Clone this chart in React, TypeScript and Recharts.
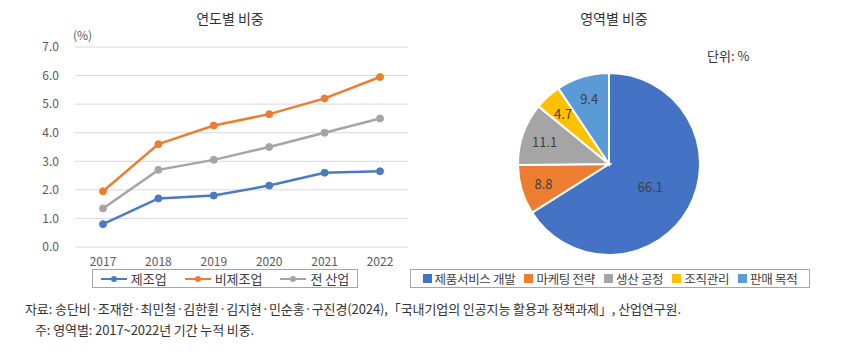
import { LineChart, Line, XAxis, YAxis, CartesianGrid, PieChart, Pie, Cell } from 'recharts'

const YEARS = ['2017', '2018', '2019', '2020', '2021', '2022']
const MANUFACTURING = [0.8, 1.7, 1.8, 2.15, 2.6, 2.65]
const NON_MANUFACTURING = [1.95, 3.6, 4.25, 4.65, 5.2, 5.95]
const ALL_INDUSTRY = [1.35, 2.7, 3.05, 3.5, 4.0, 4.5]
const Y_TICKS = [0, 1, 2, 3, 4, 5, 6, 7]

const SERIES = [
  { key: 'mfg', name: '제조업', color: '#4A7BC0' },
  { key: 'nonMfg', name: '비제조업', color: '#ED7D31' },
  { key: 'all', name: '전 산업', color: '#A5A5A5' },
]

const AREA_NAMES = ['제품서비스 개발', '마케팅 전략', '생산 공정', '조직관리', '판매 목적']
const AREA_SHARES = [66.1, 8.8, 11.1, 4.7, 9.4]
const AREA_COLORS = ['#4472C4', '#ED7D31', '#A5A5A5', '#FFC000', '#5B9BD5']

const FONT = '"Noto Sans CJK KR", "Noto Sans", sans-serif'
const TEXT = '#404040'

const lineData = YEARS.map((year, i) => ({
  year,
  mfg: MANUFACTURING[i],
  nonMfg: NON_MANUFACTURING[i],
  all: ALL_INDUSTRY[i],
}))

const pieData = AREA_NAMES.map((name, i) => ({ name, value: AREA_SHARES[i] }))

const RADIAN = Math.PI / 180

function renderPieLabel(props: any) {
  const { cx, cy, midAngle, outerRadius, value } = props
  const r = outerRadius * (value > 50 ? 0.52 : 0.75)
  const x = cx + r * Math.cos(-midAngle * RADIAN)
  const y = cy + r * Math.sin(-midAngle * RADIAN)
  return (
    <text x={x} y={y} fill={TEXT} fontSize={13} fontFamily={FONT} textAnchor="middle" dominantBaseline="central">
      {value.toFixed(1)}
    </text>
  )
}

export default function App() {
  return (
    <div style={{ position: 'absolute', left: 0, top: 0, width: 849, height: 353, background: '#fff', fontFamily: FONT, color: TEXT }}>
      {/* left: yearly share */}
      <div style={{ position: 'absolute', left: 0, top: 8, width: 420, textAlign: 'center', paddingLeft: 40, boxSizing: 'border-box', fontSize: 14, color: '#333' }}>
        연도별 비중
      </div>
      <div style={{ position: 'absolute', left: 73, top: 26, fontSize: 12, color: '#595959' }}>(%)</div>
      <div style={{ position: 'absolute', left: 0, top: 0 }}>
        <LineChart width={420} height={290} data={lineData} margin={{ top: 47, right: 12, left: 0, bottom: 0 }}>
          <CartesianGrid vertical={false} stroke="#D9D9D9" />
          <XAxis
            dataKey="year"
            axisLine={false}
            tickLine={false}
            height={43}
            tickMargin={4}
            padding={{ left: 28, right: 28 }}
            tick={{ fill: '#595959', fontSize: 12, fontFamily: FONT }}
          />
          <YAxis
            domain={[0, 7]}
            ticks={Y_TICKS}
            width={75}
            axisLine={false}
            tickLine={false}
            tickMargin={10}
            tick={{ fill: '#595959', fontSize: 12, fontFamily: FONT }}
            tickFormatter={(v: number) => v.toFixed(1)}
          />
          {SERIES.map((s) => (
            <Line
              key={s.key}
              dataKey={s.key}
              name={s.name}
              stroke={s.color}
              strokeWidth={2.5}
              dot={{ r: 3.5, fill: s.color, stroke: s.color, strokeWidth: 1 }}
              isAnimationActive={false}
            />
          ))}
        </LineChart>
      </div>
      <div
        style={{
          position: 'absolute', left: 92, top: 269, width: 266, height: 19, boxSizing: 'border-box',
          border: '1px solid #A6A6A6', display: 'flex', alignItems: 'center', justifyContent: 'center', gap: 18, fontSize: 13,
          whiteSpace: 'nowrap',
        }}
      >
        {SERIES.map((s) => (
          <div key={s.key} style={{ display: 'flex', alignItems: 'center', gap: 4 }}>
            <svg width={26} height={10}>
              <line x1={0} y1={5} x2={26} y2={5} stroke={s.color} strokeWidth={2} />
              <circle cx={13} cy={5} r={3} fill={s.color} />
            </svg>
            <span>{s.name}</span>
          </div>
        ))}
      </div>

      {/* right: share by area */}
      <div style={{ position: 'absolute', left: 420, top: 8, width: 388, textAlign: 'center', fontSize: 14, color: '#333' }}>
        영역별 비중
      </div>
      <div style={{ position: 'absolute', left: 707, top: 46, fontSize: 13, color: '#333' }}>단위: %</div>
      <div style={{ position: 'absolute', left: 420, top: 0 }}>
        <PieChart width={429} height={290} margin={{ top: 0, right: 0, bottom: 0, left: 0 }}>
          <Pie
            data={pieData}
            dataKey="value"
            cx={189}
            cy={164}
            outerRadius={91}
            startAngle={90}
            endAngle={-270}
            stroke="#fff"
            strokeWidth={2}
            labelLine={false}
            label={renderPieLabel}
            isAnimationActive={false}
          >
            {pieData.map((d, i) => (
              <Cell key={d.name} fill={AREA_COLORS[i]} />
            ))}
          </Pie>
        </PieChart>
      </div>
      <div
        style={{
          position: 'absolute', left: 410, top: 269, width: 400, height: 19, boxSizing: 'border-box',
          border: '1px solid #A6A6A6', display: 'flex', alignItems: 'center', justifyContent: 'center', gap: 9, fontSize: 12.5,
          whiteSpace: 'nowrap', letterSpacing: -0.3,
        }}
      >
        {AREA_NAMES.map((name, i) => (
          <div key={name} style={{ display: 'flex', alignItems: 'center', gap: 3 }}>
            <span style={{ display: 'inline-block', width: 9, height: 9, background: AREA_COLORS[i] }} />
            <span>{name}</span>
          </div>
        ))}
      </div>

      {/* footnotes */}
      <div style={{ position: 'absolute', left: 25, top: 299, fontSize: 13, color: '#333', letterSpacing: -0.1, whiteSpace: 'nowrap' }}>
        자료: 송단비·조재한·최민철·김한휜·김지현·민순홍·구진경(2024),「국내기업의 인공지능 활용과 정책과제」, 산업연구원.
      </div>
      <div style={{ position: 'absolute', left: 35, top: 320, fontSize: 13, color: '#333', letterSpacing: -0.1, whiteSpace: 'nowrap' }}>
        주: 영역별: 2017~2022년 기간 누적 비중.
      </div>
    </div>
  )
}
